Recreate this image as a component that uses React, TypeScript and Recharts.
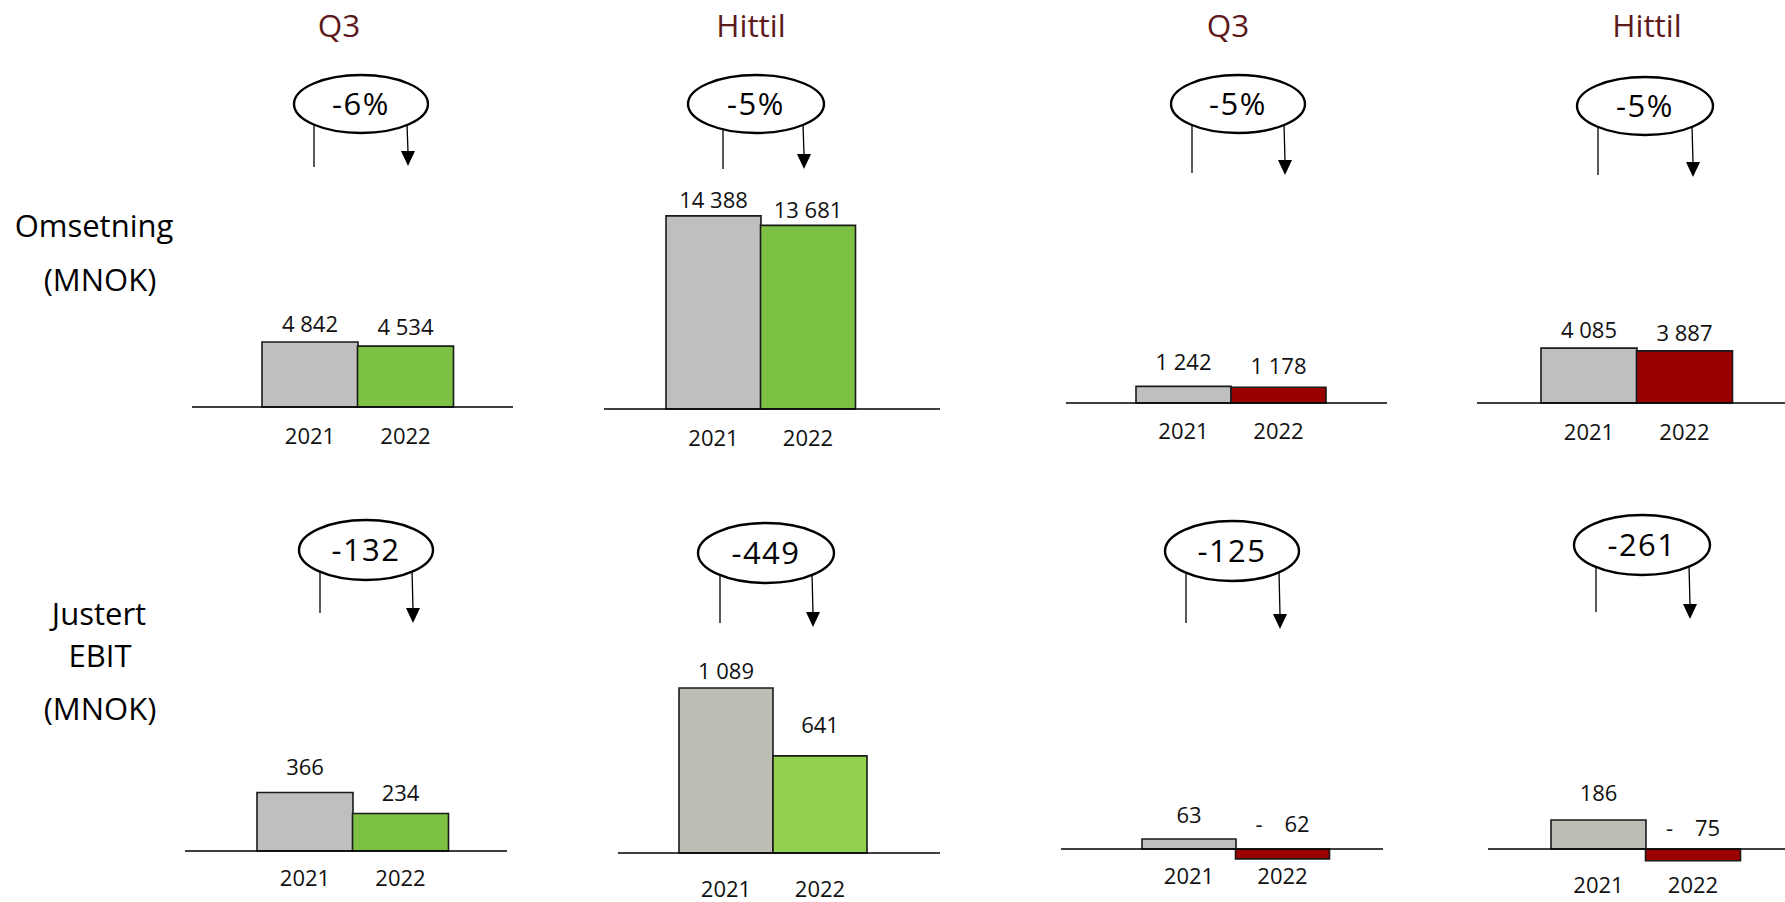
import React from 'react';
import { BarChart, Bar, XAxis, YAxis, Cell, LabelList, ReferenceLine } from 'recharts';

// ---------- data ----------
const years = ['2021', '2022'];
const periodTitles = ['Q3', 'Hittil', 'Q3', 'Hittil'];
const omsetningLabel = ['Omsetning', '(MNOK)'];
const ebitLabel = ['Justert', 'EBIT', '(MNOK)'];
const omsetning2021 = [4842, 14388, 1242, 4085];
const omsetning2022 = [4534, 13681, 1178, 3887];
const ebit2021 = [366, 1089, 63, 186];
const ebit2022 = [234, 641, -62, -75];
const omsetningChange = ['-6%', '-5%', '-5%', '-5%'];
const ebitChange = ['-132', '-449', '-125', '-261'];

// ---------- styles / layout ----------
const FONT = "'Open Sans', 'Noto Sans', sans-serif";
const GRAY = '#BFBFBF';
const GRAY_B = '#BDBDB5';
const GREEN = '#7CC143';
const GREEN_L = '#92D050';
const RED = '#990000';
const TITLE_COLOR = '#5C1A1C';

type PanelLayout = {
  xs: number; xe: number; yb: number; padL: number; padR: number; k: number;
  above: number; below: number; labelDy: number[]; yearDy: number; colors: string[];
  cx: number; cy: number; rx: number; ry: number;
  lineX: number; lineY2: number; arrowX: number; arrowY2: number;
};

const topLayouts: PanelLayout[] = [
  { xs: 192, xe: 513, yb: 407, padL: 70, padR: 60, k: 74.5, above: 250, below: 50, labelDy: [18, 19], yearDy: 29, colors: [GRAY, GREEN], cx: 361, cy: 104, rx: 67, ry: 29, lineX: 314, lineY2: 167, arrowX: 408, arrowY2: 166 },
  { xs: 604, xe: 940, yb: 409, padL: 62, padR: 85, k: 74.5, above: 250, below: 50, labelDy: [16, 15], yearDy: 29, colors: [GRAY, GREEN], cx: 756, cy: 104, rx: 68, ry: 29, lineX: 723, lineY2: 169, arrowX: 804, arrowY2: 169 },
  { xs: 1066, xe: 1387, yb: 403, padL: 70, padR: 61, k: 74.5, above: 250, below: 50, labelDy: [24, 21], yearDy: 28, colors: [GRAY, RED], cx: 1238, cy: 104, rx: 67, ry: 29, lineX: 1192, lineY2: 173, arrowX: 1285, arrowY2: 175 },
  { xs: 1477, xe: 1785, yb: 403, padL: 64, padR: 53, k: 74.5, above: 250, below: 50, labelDy: [18, 18], yearDy: 29, colors: [GRAY, RED], cx: 1645, cy: 106, rx: 68, ry: 29, lineX: 1598, lineY2: 175, arrowX: 1693, arrowY2: 177 },
];

const bottomLayouts: PanelLayout[] = [
  { xs: 185, xe: 507, yb: 851, padL: 72, padR: 59, k: 6.25, above: 220, below: 55, labelDy: [25, 21], yearDy: 27, colors: [GRAY, GREEN], cx: 366, cy: 550, rx: 67, ry: 30, lineX: 320, lineY2: 613, arrowX: 413, arrowY2: 623 },
  { xs: 618, xe: 940, yb: 853, padL: 61, padR: 73, k: 6.6, above: 220, below: 55, labelDy: [17, 31], yearDy: 36, colors: [GRAY_B, GREEN_L], cx: 766, cy: 553, rx: 68, ry: 30, lineX: 720, lineY2: 623, arrowX: 813, arrowY2: 627 },
  { xs: 1061, xe: 1383, yb: 849, padL: 81, padR: 54, k: 6.3, above: 220, below: 55, labelDy: [24, 25], yearDy: 27, colors: [GRAY, RED], cx: 1232, cy: 551, rx: 67, ry: 30, lineX: 1186, lineY2: 623, arrowX: 1280, arrowY2: 629 },
  { xs: 1488, xe: 1785, yb: 849, padL: 63, padR: 45, k: 6.4, above: 220, below: 55, labelDy: [27, 21], yearDy: 36, colors: [GRAY_B, RED], cx: 1642, cy: 545, rx: 68, ry: 30, lineX: 1596, lineY2: 612, arrowX: 1690, arrowY2: 619 },
];

const titleXs = [339, 751, 1228, 1647];
const TITLE_Y = 37;
const omsetningLabelPos = [{ x: 94, y: 237 }, { x: 100, y: 291 }];
const ebitLabelPos = [{ x: 99, y: 625 }, { x: 100, y: 667 }, { x: 100, y: 720 }];

const fmt = (n: number) => String(n).replace(/\B(?=(\d{3})+(?!\d))/g, ' ');

function Panel({ layout, v2021, v2022 }: { layout: PanelLayout; v2021: number; v2022: number }) {
  const data = [
    { year: years[0], value: v2021 },
    { year: years[1], value: v2022 },
  ];
  const width = layout.xe - layout.xs;
  const height = layout.above + layout.below;
  const domain = [-layout.below * layout.k, layout.above * layout.k];

  const geom = (props: any) => {
    const vb = props.viewBox && props.viewBox.width !== undefined ? props.viewBox : props;
    const x = Number(vb.x), y = Number(vb.y), w = Number(vb.width), h = Number(vb.height);
    const v = data[props.index].value;
    const top = Math.min(y, y + h);
    const bot = Math.max(y, y + h);
    const base = v >= 0 ? bot : top;
    return { cx: x + w / 2, top, base, v };
  };

  const valueLabel = (props: any) => {
    const g = geom(props);
    const anchor = g.v >= 0 ? g.top : g.base;
    const c = anchor - layout.labelDy[props.index];
    const text = g.v < 0 ? `-\u2002\u2002${fmt(-g.v)}` : fmt(g.v);
    return (
      <text x={g.cx} y={c + 8} textAnchor="middle" fontFamily={FONT} fontSize={22} fill="#111">
        {text}
      </text>
    );
  };

  const yearLabel = (props: any) => {
    const g = geom(props);
    const c = g.base + layout.yearDy;
    return (
      <text x={g.cx} y={c + 8} textAnchor="middle" fontFamily={FONT} fontSize={22} fill="#111">
        {data[props.index].year}
      </text>
    );
  };

  return (
    <div style={{ position: 'absolute', left: layout.xs, top: layout.yb - layout.above, width, height }}>
      <BarChart
        width={width}
        height={height}
        data={data}
        margin={{ top: 0, right: 0, bottom: 0, left: 0 }}
        barCategoryGap={0}
        barGap={0}
      >
        <XAxis dataKey="year" hide padding={{ left: layout.padL, right: layout.padR }} />
        <YAxis type="number" hide domain={domain} allowDataOverflow />
        <Bar dataKey="value" isAnimationActive={false} stroke="#1a1a1a" strokeWidth={1.6}>
          {data.map((d, i) => (
            <Cell key={d.year} fill={layout.colors[i]} />
          ))}
          <LabelList dataKey="value" content={valueLabel} />
          <LabelList dataKey="year" content={yearLabel} />
        </Bar>
        <ReferenceLine y={0} stroke="#000" strokeWidth={1.3} />
      </BarChart>
    </div>
  );
}

function Callout({ layout, text }: { layout: PanelLayout; text: string }) {
  const edge = (x: number) => {
    const t = (x - layout.cx) / layout.rx;
    return layout.cy + layout.ry * Math.sqrt(Math.max(0, 1 - t * t));
  };
  const ah = 15;
  const aw = 7;
  return (
    <g>
      <line x1={layout.lineX} y1={edge(layout.lineX) - 1} x2={layout.lineX} y2={layout.lineY2} stroke="#000" strokeWidth={1.3} />
      <line x1={layout.arrowX - 1} y1={edge(layout.arrowX) - 1} x2={layout.arrowX} y2={layout.arrowY2 - ah + 1} stroke="#000" strokeWidth={1.3} />
      <polygon
        points={`${layout.arrowX - aw},${layout.arrowY2 - ah} ${layout.arrowX + aw},${layout.arrowY2 - ah} ${layout.arrowX},${layout.arrowY2}`}
        fill="#000"
      />
      <ellipse cx={layout.cx} cy={layout.cy} rx={layout.rx} ry={layout.ry} fill="#fff" stroke="#000" strokeWidth={2.4} />
      <text x={layout.cx} y={layout.cy + 11} textAnchor="middle" fontFamily={FONT} fontSize={31} letterSpacing={1.5} fill="#000">
        {text}
      </text>
    </g>
  );
}

function Annotations() {
  return (
    <svg width={1785} height={902} style={{ position: 'absolute', left: 0, top: 0, pointerEvents: 'none' }}>
      {periodTitles.map((t, i) => (
        <text key={`t${i}`} x={titleXs[i]} y={TITLE_Y} textAnchor="middle" fontFamily={FONT} fontSize={31.5} fill={TITLE_COLOR}>
          {t}
        </text>
      ))}
      {omsetningLabel.map((t, i) => (
        <text key={`o${i}`} x={omsetningLabelPos[i].x} y={omsetningLabelPos[i].y} textAnchor="middle" fontFamily={FONT} fontSize={31} fill="#000">
          {t}
        </text>
      ))}
      {ebitLabel.map((t, i) => (
        <text key={`e${i}`} x={ebitLabelPos[i].x} y={ebitLabelPos[i].y} textAnchor="middle" fontFamily={FONT} fontSize={31} fill="#000">
          {t}
        </text>
      ))}
      {topLayouts.map((l, i) => (
        <Callout key={`ct${i}`} layout={l} text={omsetningChange[i]} />
      ))}
      {bottomLayouts.map((l, i) => (
        <Callout key={`cb${i}`} layout={l} text={ebitChange[i]} />
      ))}
    </svg>
  );
}

export default function App() {
  return (
    <div style={{ position: 'absolute', left: 0, top: 0, width: 1785, height: 902, background: '#fff', overflow: 'hidden' }}>
      {topLayouts.map((l, i) => (
        <Panel key={`pt${i}`} layout={l} v2021={omsetning2021[i]} v2022={omsetning2022[i]} />
      ))}
      {bottomLayouts.map((l, i) => (
        <Panel key={`pb${i}`} layout={l} v2021={ebit2021[i]} v2022={ebit2022[i]} />
      ))}
      <Annotations />
    </div>
  );
}
